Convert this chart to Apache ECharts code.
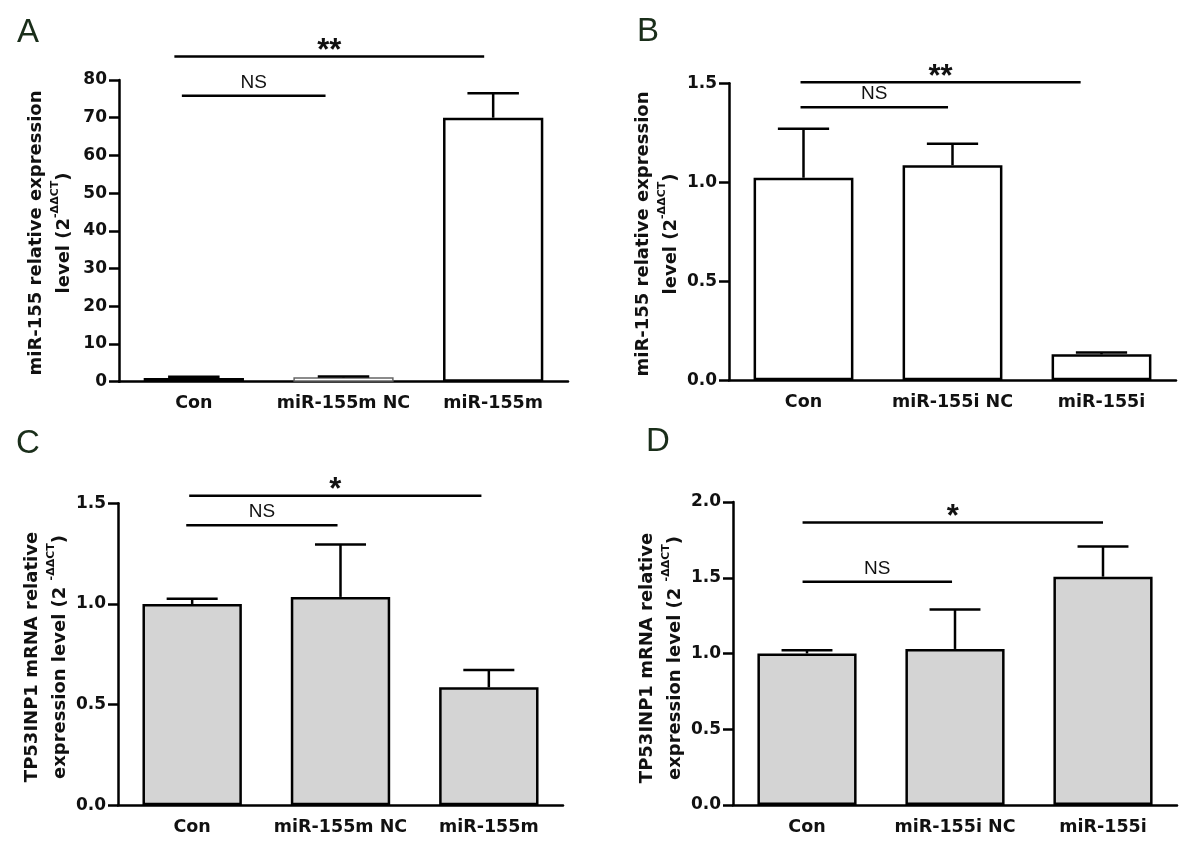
<!DOCTYPE html>
<html>
<head>
<meta charset="utf-8">
<script src="https://cdn.jsdelivr.net/npm/echarts@6/dist/echarts.min.js"></script>
<style>html,body{margin:0;padding:0;background:#fff}#c{width:1200px;height:844px}</style>
</head>
<body>
<div id="c"></div>
<script>
// ---------- data ----------
const catsA = ['Con', 'miR-155m NC', 'miR-155m'];
const catsB = ['Con', 'miR-155i NC', 'miR-155i'];
const catsC = ['Con', 'miR-155m NC', 'miR-155m'];
const catsD = ['Con', 'miR-155i NC', 'miR-155i'];

const meanA = [1.0, 1.15, 70.0];
const errA  = [0.3, 0.25, 6.5];
const meanB = [1.023, 1.086, 0.131];
const errB  = [0.248, 0.109, 0.01];
const meanC = [1.0, 1.035, 0.586];
const errC  = [0.026, 0.26, 0.086];
const meanD = [1.0, 1.03, 1.507];
const errD  = [0.022, 0.26, 0.2];

// brackets: [start category pos, end category pos, y value]
const bracketsA = [[-0.13, 1.94, 86.2], [-0.08, 0.88, 75.8]];
const bracketLabelsA = ['**', 'NS'];
const bracketsB = [[-0.02, 1.86, 1.505], [-0.02, 0.97, 1.379]];
const bracketLabelsB = ['**', 'NS'];
const bracketsC = [[-0.02, 1.95, 1.538], [-0.04, 0.98, 1.391]];
const bracketLabelsC = ['*', 'NS'];
const bracketsD = [[-0.03, 2.0, 1.864], [-0.03, 0.98, 1.474]];
const bracketLabelsD = ['*', 'NS'];

// y axis ranges [min, max, interval]
const yRangeA = [0, 80, 10];
const yRangeB = [0, 1.5, 0.5];
const yRangeC = [0, 1.5, 0.5];
const yRangeD = [0, 2.0, 0.5];

const titleA = ['miR-155 relative expression', 'level (2', '-ΔΔCT', ')'];
const titleB = ['miR-155 relative expression', 'level (2', '-ΔΔCT', ')'];
const titleC = ['TP53INP1 mRNA relative', 'expression level (2 ', '-ΔΔCT', ')'];
const titleD = ['TP53INP1 mRNA relative', 'expression level (2 ', '-ΔΔCT', ')'];
const panelLetters = ['A', 'B', 'C', 'D'];

// ---------- layout / style ----------
const grids = [
  {left: 119, top: 80,    width: 449, height: 301.7},
  {left: 729, top: 83.3,  width: 447, height: 297},
  {left: 118, top: 503.3, width: 445, height: 302},
  {left: 733, top: 502,   width: 444, height: 303}
];
const TXT = '#111';
const LW = 2.5;
const FONT = 'DejaVu Sans';

const panels = [
  {cats: catsA, mean: meanA, err: errA, br: bracketsA, brl: bracketLabelsA, yr: yRangeA, fill: '#ffffff', dec: 0},
  {cats: catsB, mean: meanB, err: errB, br: bracketsB, brl: bracketLabelsB, yr: yRangeB, fill: '#ffffff', dec: 1},
  {cats: catsC, mean: meanC, err: errC, br: bracketsC, brl: bracketLabelsC, yr: yRangeC, fill: '#d4d4d4', dec: 1},
  {cats: catsD, mean: meanD, err: errD, br: bracketsD, brl: bracketLabelsD, yr: yRangeD, fill: '#d4d4d4', dec: 1}
];

const xAxis = [], yAxis = [], series = [];
panels.forEach(function (p, i) {
  xAxis.push({
    type: 'category', gridIndex: i, data: p.cats,
    axisLine: {lineStyle: {color: '#000', width: LW}},
    axisTick: {alignWithLabel: true, length: 9, lineStyle: {color: '#000', width: LW}},
    axisLabel: {interval: 0, color: TXT, fontFamily: FONT, fontWeight: 'bold', fontSize: 17.5, margin: 13}
  });
  yAxis.push({
    type: 'value', gridIndex: i, min: p.yr[0], max: p.yr[1], interval: p.yr[2],
    axisLine: {show: true, lineStyle: {color: '#000', width: LW}},
    axisTick: {show: true, length: 10, lineStyle: {color: '#000', width: LW}},
    splitLine: {show: false},
    axisLabel: {color: TXT, fontFamily: FONT, fontWeight: 'bold', fontSize: 17, margin: 12,
      formatter: (function (d) { return function (v) { return v.toFixed(d); }; })(p.dec)}
  });
  series.push({
    type: 'bar', xAxisIndex: i, yAxisIndex: i, barWidth: '67%',
    data: p.mean.map(function (v, k) {
      var o = {value: v};
      if (i === 0 && k === 1) o.itemStyle = {borderColor: '#666', borderWidth: 1.5};
      return o;
    }),
    itemStyle: {color: p.fill, borderColor: '#000', borderWidth: LW},
    silent: true, z: 2
  });
  series.push({
    type: 'custom', xAxisIndex: i, yAxisIndex: i, z: 3, silent: true,
    data: p.mean.map(function (v, k) { return [k, v, p.err[k]]; }),
    encode: {x: 0, y: 1},
    renderItem: function (params, api) {
      var x = api.value(0), m = api.value(1), e = api.value(2);
      var base = api.coord([x, m]);
      var top = api.coord([x, m + e]);
      var bw = api.size([1, 0])[0];
      var hw = bw * 0.172;
      return {type: 'group', children: [
        {type: 'line', shape: {x1: base[0], y1: base[1], x2: top[0], y2: top[1]}, style: {stroke: '#000', lineWidth: LW}},
        {type: 'line', shape: {x1: top[0] - hw, y1: top[1], x2: top[0] + hw, y2: top[1]}, style: {stroke: '#000', lineWidth: LW}}
      ]};
    }
  });
  series.push({
    type: 'custom', xAxisIndex: i, yAxisIndex: i, z: 4, silent: true,
    data: p.br.map(function (b) { return [0, b[2], b[0], b[1]]; }),
    encode: {x: 0, y: 1},
    renderItem: function (params, api) {
      var y = api.value(1), s = api.value(2), en = api.value(3);
      var c0 = api.coord([0, y]);
      var bw = api.size([1, 0])[0];
      var x1 = c0[0] + s * bw, x2 = c0[0] + en * bw;
      var lab = p.brl[params.dataIndex];
      var star = lab.indexOf('*') >= 0;
      return {type: 'group', children: [
        {type: 'line', shape: {x1: x1, y1: c0[1], x2: x2, y2: c0[1]}, style: {stroke: '#000', lineWidth: LW}},
        {type: 'text', x: (x1 + x2) / 2, y: c0[1] - (star ? 5 : 13),
          style: {text: lab, fill: TXT, align: 'center', verticalAlign: 'middle',
            font: star ? 'bold 31px "Liberation Sans", Arial' : 'normal 19px "Liberation Sans", Arial'}}
      ]};
    }
  });
});

function titleEl(x, y, t) {
  return {
    type: 'text', x: x, y: y, rotation: Math.PI / 2, silent: true,
    style: {
      text: '{n|' + t[0] + '}\n{n|' + t[1] + '}{s|' + t[2] + '}{n|' + t[3] + '}',
      align: 'center', verticalAlign: 'middle', fill: TXT,
      rich: {
        n: {fontFamily: FONT, fontWeight: 'bold', fontSize: 18, lineHeight: 28, fill: TXT},
        s: {fontFamily: FONT, fontWeight: 'bold', fontSize: 11, lineHeight: 14, verticalAlign: 'top', fill: TXT}
      }
    }
  };
}
function letterEl(x, y, t) {
  return {type: 'text', x: x, y: y, silent: true,
    style: {text: t, fill: '#1a2e1a', font: 'normal 33px "Liberation Sans", Arial', align: 'center', verticalAlign: 'middle'}};
}

const graphic = [
  titleEl(50, 233, titleA), titleEl(657, 234, titleB),
  titleEl(46, 657, titleC), titleEl(661, 658, titleD),
  letterEl(28, 33, panelLetters[0]), letterEl(648, 32, panelLetters[1]),
  letterEl(28, 444, panelLetters[2]), letterEl(658, 442, panelLetters[3])
];

const chart = echarts.init(document.getElementById('c'), null, {renderer: 'canvas'});
chart.setOption({
  animation: false,
  backgroundColor: '#fff',
  grid: grids,
  xAxis: xAxis,
  yAxis: yAxis,
  series: series,
  graphic: graphic
});
</script>
</body>
</html>
